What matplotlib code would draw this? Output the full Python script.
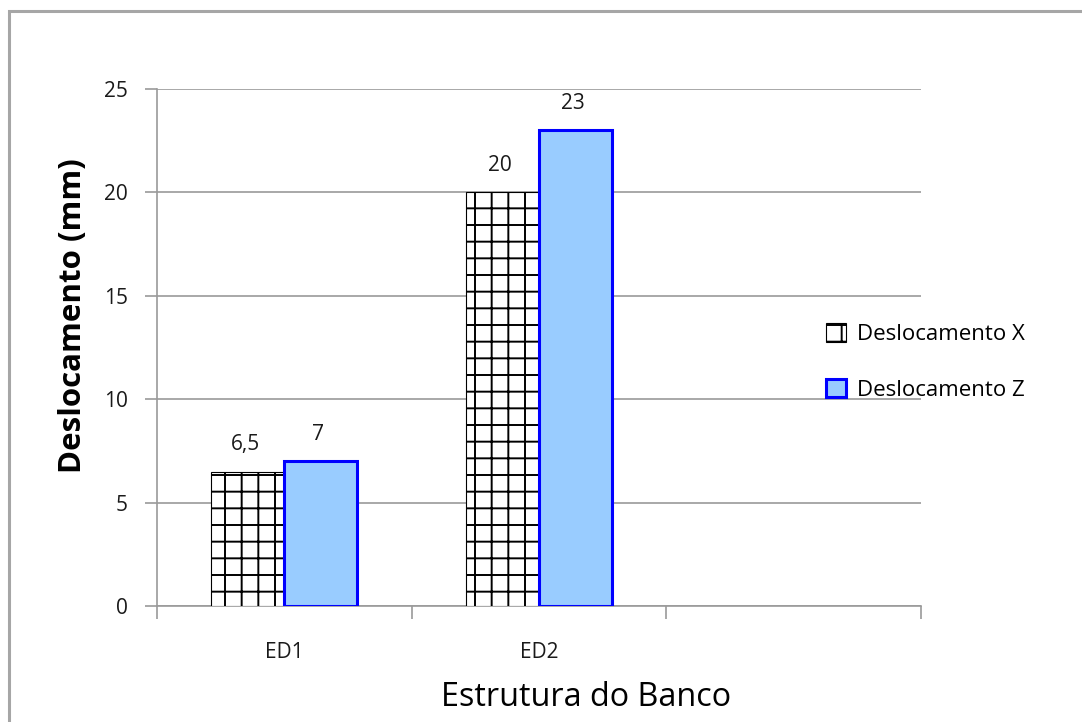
import matplotlib
matplotlib.use("Agg")
import matplotlib.pyplot as plt
import numpy as np
from matplotlib.patches import Rectangle

categories = ["ED1", "ED2", ""]
desloc_x = [6.5, 20, None]
desloc_z = [7, 23, None]
series_names = ["Deslocamento X", "Deslocamento Z"]
y_ticks = [0, 5, 10, 15, 20, 25]

plt.rcParams["font.family"] = ["Open Sans", "DejaVu Sans"]
plt.rcParams["hatch.linewidth"] = 1.4

W, H = 1082, 722
fig = plt.figure(figsize=(W / 100, H / 100), dpi=100)
fig.patch.set_facecolor("white")

# outer chart frame (open to the right and bottom)
fig.add_artist(Rectangle((8.5 / W, -0.1), 2.0, 1.1 - 11 / H,
                         transform=fig.transFigure, fill=False,
                         edgecolor="#a6a6a6", linewidth=2.2))

ax = fig.add_axes([157 / W, 1 - 606 / H, (921 - 157) / W, (606 - 89) / H])

grid_c = "#9a9a9a"
text_c = "#1a1a1a"
small = 15
n = len(categories)
idx = np.arange(n)
bw = 0.286

xs = [(i, v) for i, v in zip(idx, desloc_x) if v is not None]
zs = [(i, v) for i, v in zip(idx, desloc_z) if v is not None]

bx = ax.bar([i - bw / 2 for i, _ in xs], [v for _, v in xs], width=bw,
            facecolor="white", edgecolor="black", hatch="+", linewidth=0.8,
            label=series_names[0], zorder=3)
bz = ax.bar([i + bw / 2 for i, _ in zs], [v for _, v in zs], width=bw,
            facecolor="#99ccff", edgecolor="#0000ff", linewidth=2.2,
            label=series_names[1], zorder=3)

def fmt(v):
    return f"{v:g}".replace(".", ",")

for i, v in xs:
    ax.annotate(fmt(v), (i - bw / 2, v), xytext=(-2, 12), textcoords="offset points",
                ha="center", va="bottom", fontsize=small, color=text_c)
for i, v in zs:
    ax.annotate(fmt(v), (i + bw / 2, v), xytext=(-2, 12), textcoords="offset points",
                ha="center", va="bottom", fontsize=small, color=text_c)

ax.set_xlim(-0.5, n - 0.5)
ax.set_ylim(0, 25)
ax.set_yticks(y_ticks)
ax.set_yticklabels([str(t) for t in y_ticks])
ax.yaxis.grid(True, color=grid_c, linewidth=1.2, zorder=0)
ax.set_axisbelow(True)

ax.set_xticks(np.arange(-0.5, n, 1.0))
ax.set_xticklabels([])
ax.set_xticks(idx, minor=True)
ax.set_xticklabels(categories, minor=True)
ax.tick_params(axis="x", which="major", length=9, width=1.2, color=grid_c, direction="out")
ax.tick_params(axis="x", which="minor", length=0, pad=26, labelsize=small, labelcolor=text_c)
ax.tick_params(axis="y", length=9, width=1.2, color=grid_c, direction="out",
               labelsize=small, labelcolor=text_c, pad=12)

for s in ["top", "right"]:
    ax.spines[s].set_visible(False)
for s in ["left", "bottom"]:
    ax.spines[s].set_color(grid_c)
    ax.spines[s].set_linewidth(1.2)

ax.set_ylabel("Deslocamento (mm)", fontsize=22.5, fontweight="bold", va="center")
ax.yaxis.set_label_coords((73 - 157) / 764, (606 - 316) / 517)
ax.set_xlabel("Estrutura do Banco", fontsize=23.3, va="center")
ax.xaxis.set_label_coords((586 - 157) / 764, (606 - 697) / 517)

leg = fig.legend(handles=[bx, bz], labels=series_names,
                 loc="center left", bbox_to_anchor=(806 / W, 1 - 362 / H),
                 frameon=False, fontsize=16, handlelength=0.9, handleheight=0.9,
                 handletextpad=0.5, labelspacing=1.5)

fig.savefig("out.png", dpi=100)
